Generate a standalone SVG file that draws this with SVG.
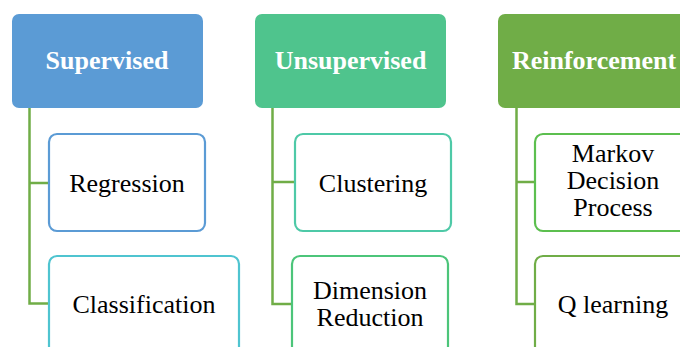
<svg xmlns="http://www.w3.org/2000/svg" width="680" height="347" viewBox="0 0 680 347" font-family="Liberation Serif, Times New Roman, serif">
<style>
.hdr{stroke:none}
.ht{font-weight:bold;font-size:26px;fill:#fff;text-anchor:middle}
.ch{fill:#fff;stroke-width:2.2}
.ct{font-size:26px;fill:#000;text-anchor:middle}
.con{fill:none;stroke:#70ad47;stroke-width:2.5}
</style>
<rect width="680" height="347" fill="#fff"/>
<g id="supervised"><rect class="hdr" x="12" y="14" width="191" height="94" rx="7" fill="#5b9bd5"/><text class="ht" x="107" y="69" font-family="Liberation Serif">Supervised</text></g>
<g id="unsupervised"><rect class="hdr" x="255" y="14" width="191" height="94" rx="7" fill="#4fc48d"/><text class="ht" x="350.5" y="69" font-family="Liberation Serif">Unsupervised</text></g>
<g id="reinforcement"><rect class="hdr" x="498" y="14" width="200" height="94" rx="7" fill="#70ad47"/><text class="ht" x="594" y="69" font-family="Liberation Serif">Reinforcement</text></g>
<g id="connectors">
<path class="con" d="M29.5 108 V303.5 H49 M29.5 183 H49"/>
<path class="con" d="M272.5 108 V304 H292 M272.5 182 H295"/>
<path class="con" d="M516.5 108 V304 H535 M516.5 182 H535"/>
</g>
<g id="regression"><rect class="ch" x="49" y="134" width="156" height="97" rx="8" stroke="#5b9bd5"/><text class="ct" x="127" y="191.5" font-family="Liberation Serif">Regression</text></g>
<g id="classification"><rect class="ch" x="49" y="256" width="190" height="100" rx="8" stroke="#4fc4d0"/><text class="ct" x="144" y="312.5" font-family="Liberation Serif">Classification</text></g>
<g id="clustering"><rect class="ch" x="295" y="134" width="156" height="97" rx="8" stroke="#4ec9a7"/><text class="ct" x="373" y="191.5" font-family="Liberation Serif">Clustering</text></g>
<g id="dimension"><rect class="ch" x="292" y="256" width="156" height="100" rx="8" stroke="#4cc57a"/><text class="ct" x="370" y="299" font-family="Liberation Serif">Dimension</text><text class="ct" x="370" y="325.5" font-family="Liberation Serif">Reduction</text></g>
<g id="markov"><rect class="ch" x="535" y="134" width="160" height="97" rx="8" stroke="#5cbf4f"/><text class="ct" x="613" y="162" font-family="Liberation Serif">Markov</text><text class="ct" x="613" y="189" font-family="Liberation Serif">Decision</text><text class="ct" x="613" y="216" font-family="Liberation Serif">Process</text></g>
<g id="qlearning"><rect class="ch" x="535" y="256" width="160" height="100" rx="8" stroke="#70ad47"/><text class="ct" x="613" y="312.5" font-family="Liberation Serif">Q learning</text></g>
</svg>
